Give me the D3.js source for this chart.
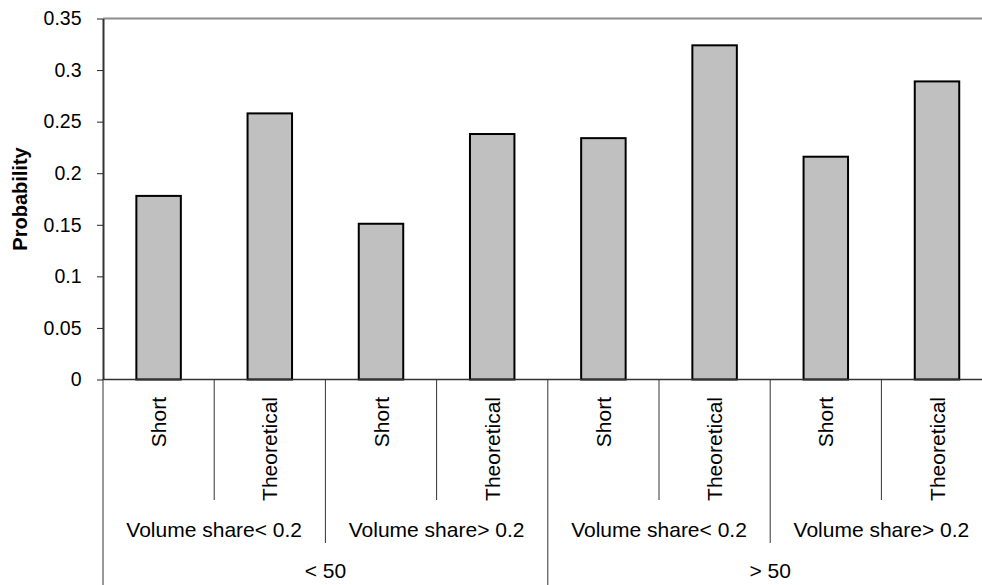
<!DOCTYPE html>
<html>
<head>
<meta charset="utf-8">
<script src="https://cdn.jsdelivr.net/npm/d3@7"></script>
<style>
  body { margin: 0; background: #fff; }
  svg { display: block; font-family: "Liberation Sans", Arial, sans-serif; }
</style>
</head>
<body>
<svg id="chart" width="982" height="585"></svg>
<script>
// chart data
const categories = ["Short", "Theoretical", "Short", "Theoretical", "Short", "Theoretical", "Short", "Theoretical"];
const subgroups = ["Volume share< 0.2", "Volume share> 0.2", "Volume share< 0.2", "Volume share> 0.2"];
const groups = ["< 50", "> 50"];
const probability = [0.178, 0.258, 0.151, 0.238, 0.234, 0.324, 0.216, 0.289];
const yTicks = [0, 0.05, 0.1, 0.15, 0.2, 0.25, 0.3, 0.35];
const yLabel = "Probability";

const svg = d3.select("#chart");
const plotLeft = 103, plotRight = 992.6, plotTop = 18.5, plotBottom = 379.5;

const y = d3.scaleLinear().domain([0, 0.35]).range([plotBottom, plotTop]);

// one band per bar, Excel-like gap width
const x = d3.scaleBand()
    .domain(d3.range(categories.length))
    .range([plotLeft, plotRight])
    .paddingInner(0.6)
    .paddingOuter(0.3);

// category edges for the multi-level axis
const edge = d3.scaleLinear().domain([0, categories.length]).range([plotLeft, plotRight]);

// top border of plot area
svg.append("line")
    .attr("x1", plotLeft).attr("x2", plotRight)
    .attr("y1", plotTop).attr("y2", plotTop)
    .attr("stroke", "#8c8c8c").attr("stroke-width", 2);

// bars
svg.append("g").selectAll("rect")
    .data(probability)
    .join("rect")
    .attr("x", (d, i) => x(i))
    .attr("width", x.bandwidth())
    .attr("y", d => y(d))
    .attr("height", d => y(0) - y(d))
    .attr("fill", "#c0c0c0")
    .attr("stroke", "#000")
    .attr("stroke-width", 2);

// y axis
const yAxis = d3.axisLeft(y)
    .tickValues(yTicks)
    .tickSize(6)
    .tickSizeOuter(0)
    .tickPadding(15.5)
    .tickFormat(d => String(+d.toFixed(2)));

const yg = svg.append("g")
    .attr("transform", `translate(${plotLeft},0)`)
    .call(yAxis);
yg.select(".domain").attr("stroke", "#333").attr("stroke-width", 2);
yg.selectAll(".tick line").attr("stroke", "#222");
yg.selectAll(".tick text")
    .attr("font-size", 19.5)
    .attr("fill", "#000")
    .attr("font-family", "'Liberation Sans', Arial, sans-serif");

// y label
svg.append("text")
    .attr("transform", `translate(27,${(plotTop + plotBottom) / 2}) rotate(-90)`)
    .attr("text-anchor", "middle")
    .attr("font-size", 20)
    .attr("font-weight", "bold")
    .text(yLabel);

// zero line
svg.append("line")
    .attr("x1", plotLeft).attr("x2", plotRight)
    .attr("y1", y(0)).attr("y2", y(0))
    .attr("stroke", "#333").attr("stroke-width", 1.5);

// multi-level category axis
const axisG = svg.append("g").attr("stroke", "#333").attr("stroke-width", 1);

// level 1 dividers
axisG.selectAll(".d1")
    .data(d3.range(1, categories.length).filter(i => i % 2 === 1))
    .join("line")
    .attr("x1", i => edge(i)).attr("x2", i => edge(i))
    .attr("y1", plotBottom).attr("y2", 500);

// level 2 dividers
axisG.selectAll(".d2")
    .data([2, 6])
    .join("line")
    .attr("x1", i => edge(i)).attr("x2", i => edge(i))
    .attr("y1", plotBottom).attr("y2", 543);

// level 3 dividers (and left edge)
axisG.selectAll(".d3")
    .data([0, 4])
    .join("line")
    .attr("x1", i => edge(i)).attr("x2", i => edge(i))
    .attr("y1", plotBottom).attr("y2", 585);

// category labels
svg.append("g").selectAll("text")
    .data(categories)
    .join("text")
    .attr("transform", (d, i) => `translate(${x(i) + x.bandwidth() / 2},397) rotate(-90)`)
    .attr("text-anchor", "end")
    .attr("dominant-baseline", "central")
    .attr("font-size", 21)
    .text(d => d);

// subgroup labels
svg.append("g").selectAll("text")
    .data(subgroups)
    .join("text")
    .attr("x", (d, i) => (edge(i * 2) + edge(i * 2 + 2)) / 2)
    .attr("y", 536.5)
    .attr("text-anchor", "middle")
    .attr("font-size", 21)
    .text(d => d);

// group labels
svg.append("g").selectAll("text")
    .data(groups)
    .join("text")
    .attr("x", (d, i) => (edge(i * 4) + edge(i * 4 + 4)) / 2)
    .attr("y", 578)
    .attr("text-anchor", "middle")
    .attr("font-size", 21)
    .text(d => d);
</script>
</body>
</html>
